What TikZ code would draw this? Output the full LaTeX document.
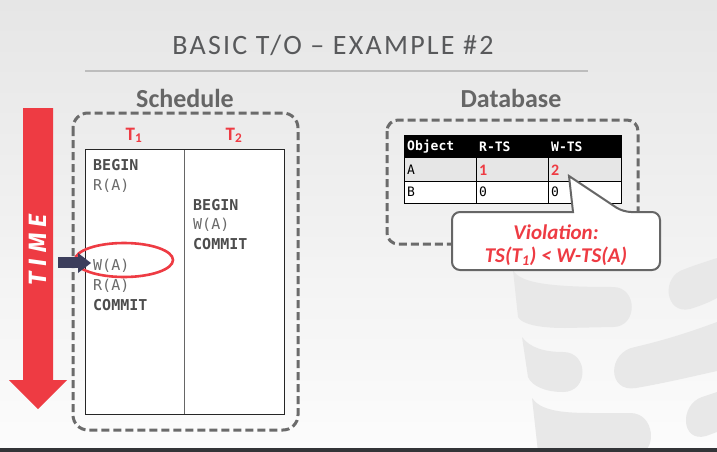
\documentclass[tikz,border=0pt]{standalone}
\usepackage{fontspec}
\setmainfont{Carlito}
\setmonofont{DejaVu Sans Mono}
\newfontfamily\titlefont[LetterSpace=8]{Carlito}
\newfontfamily\timefont[LetterSpace=24]{Fira Sans}
\usetikzlibrary{shapes.geometric}

\definecolor{bgtop}{HTML}{E6E6E6}
\definecolor{bgbot}{HTML}{FCFCFC}
\definecolor{inkgrey}{HTML}{58595B}
\definecolor{headgrey}{HTML}{666666}
\definecolor{dashgrey}{HTML}{6B6B6B}
\definecolor{alarm}{HTML}{EE3B43}
\definecolor{opgrey}{HTML}{6A6A6A}
\definecolor{kwgrey}{HTML}{4D4D4D}
\definecolor{marker}{HTML}{3C3E5C}
\definecolor{mark}{HTML}{E8E8E8}
\definecolor{rowgrey}{HTML}{E6E6E6}
\definecolor{barink}{HTML}{333538}

\begin{document}
\begin{tikzpicture}[x=1pt,y=-1pt,
  dashbox/.style={draw=dashgrey, line width=3pt, dash pattern=on 8pt off 4pt, rounded corners=15pt},
  heading/.style={font=\bfseries\fontsize{26}{30}\selectfont, text=headgrey, anchor=base, inner sep=0pt},
  txname/.style={font=\bfseries\fontsize{19}{22}\selectfont, text=alarm, anchor=base, inner sep=0pt},
  kw/.style={font=\ttfamily\bfseries\fontsize{15}{18}\selectfont, text=kwgrey, anchor=base west, inner sep=0pt},
  op/.style={font=\ttfamily\fontsize{15}{18}\selectfont, text=opgrey, anchor=base west, inner sep=0pt},
  hcell/.style={font=\ttfamily\bfseries\fontsize{13}{15}\selectfont, text=white, anchor=west, inner sep=0pt},
  cell/.style={font=\ttfamily\fontsize{13}{15}\selectfont, text=black, anchor=west, inner sep=0pt},
  val/.style={font=\bfseries\fontsize{16}{18}\selectfont, text=alarm, anchor=west, inner sep=0pt},
  warn/.style={font=\bfseries\itshape\fontsize{21}{24}\selectfont, text=alarm, anchor=base, inner sep=0pt}]
\useasboundingbox (0,0) rectangle (717,452);

% background
\shade[top color=bgtop, bottom color=bgbot] (0,0) rectangle (717,452);

% watermark logo
\begin{scope}[fill=mark]
\fill (513,270) .. controls (520,284) and (555,287) .. (613,287)
  .. controls (638,287) and (638,327) .. (613,327)
  -- (565,328) .. controls (535,328) and (521,323) .. (518,317) -- cycle;
\fill (522,337) .. controls (530,348) and (545,352) .. (563,352)
  .. controls (589,352) and (589,392) .. (563,392)
  .. controls (545,392) and (532,386) .. (528,377) -- cycle;
\fill (532,398) .. controls (540,410) and (560,413) .. (590,413) -- (630,413)
  .. controls (656,413) and (656,452) .. (640,452) -- (538,452) -- cycle;
\fill (717,258) .. controls (705,262) and (695,265) .. (685,269)
  .. controls (660,276) and (665,315) .. (690,309)
  .. controls (700,306) and (710,302) .. (717,298) -- cycle;
\fill (717,322) .. controls (690,332) and (665,340) .. (635,347)
  .. controls (607,352) and (607,393) .. (636,388)
  .. controls (665,383) and (690,377) .. (717,371) -- cycle;
\fill (717,392) -- (702,397) .. controls (679,405) and (681,443) .. (706,436)
  -- (717,432) -- cycle;
\end{scope}

% title
\node[font=\titlefont\fontsize{28}{32}\selectfont, text=inkgrey, anchor=base, inner sep=0pt]
  (title) at (333,55) {BASIC T/O \textendash{} EXAMPLE \#2};
\draw[draw=black!26, line width=1.5pt] (85,71) -- (588,71);

% time arrow
\fill[alarm] (23,108) -- (53,108) -- (53,380) -- (67,380) -- (38,409) -- (9,380) -- (23,380) -- cycle;
\node[rotate=90, font=\timefont\bfseries\itshape\fontsize{25}{29}\selectfont, text=white, inner sep=0pt]
  (time) at (38,250) {TIME};

% schedule
\node[heading] (schedhead) at (185,107) {Schedule};
\draw[dashbox] (73,113) rectangle (298,430);
\node[txname] (t1) at (134,140) {T\textsubscript{1}};
\node[txname] (t2) at (234,140) {T\textsubscript{2}};
\fill[white] (85,149) rectangle (284,414);
\draw[draw=black!60, line width=1pt] (184,149) -- (184,414);
\draw[draw=black!85, line width=1pt] (85,149) rectangle (284,414);

\node[kw] (b1) at (93,170) {BEGIN};
\node[op] (r1) at (93,190) {R(A)};
\node[kw] (b2) at (193,210) {BEGIN};
\node[op] (w2) at (193,229) {W(A)};
\node[kw] (c2) at (193,249) {COMMIT};
\node[op] (w1) at (93,270) {W(A)};
\node[op] (r1b) at (93,290) {R(A)};
\node[kw] (c1) at (93,310) {COMMIT};

% current step marker
\draw[alarm, line width=2.6pt] (124,260) ellipse [x radius=49pt, y radius=17pt];
\fill[marker] (58,257) rectangle (79,268);
\fill[marker] (78,253) -- (91,263) -- (78,273) -- cycle;

% database
\node[heading] (dbhead) at (511,107) {Database};
\draw[dashbox, rounded corners=11pt] (387,120) rectangle (638,244);
\fill[black] (404,135) rectangle (621,158);
\fill[rowgrey] (404,158) rectangle (621,181);
\fill[white] (404,181) rectangle (621,203);
\draw[black, line width=0.9pt] (404,181) -- (621,181)
  (476,158) -- (476,203) (548,158) -- (548,203);
\draw[black, line width=1pt] (404,135) rectangle (621,203);

\node[hcell] (hobj) at (407,147) {Object};
\node[hcell] (hrts) at (479,147) {R-TS};
\node[hcell] (hwts) at (551,147) {W-TS};
\node[cell] (oa) at (407,170) {A};
\node[val] (ra) at (479,170) {1};
\node[val] (wa) at (551,170) {2};
\node[cell] (ob) at (407,192) {B};
\node[cell] (rb) at (479,192) {0};
\node[cell] (wb) at (551,192) {0};

% callout
\draw[draw=headgrey, fill=white, line width=2pt]
  (500,212) [rounded corners=8pt] -- (452,212) -- (452,270) -- (660,270) -- (660,212) -- (623,212)
  [sharp corners] -- (569,176) -- (573,212) -- cycle;
\node[warn] (viol) at (556,239) {Violation:};
\node[warn] (cond) at (556,262) {TS(T\textsubscript{1}) < W-TS(A)};

% footer bar
\fill[barink] (0,448) rectangle (717,452);
\end{tikzpicture}
\end{document}
